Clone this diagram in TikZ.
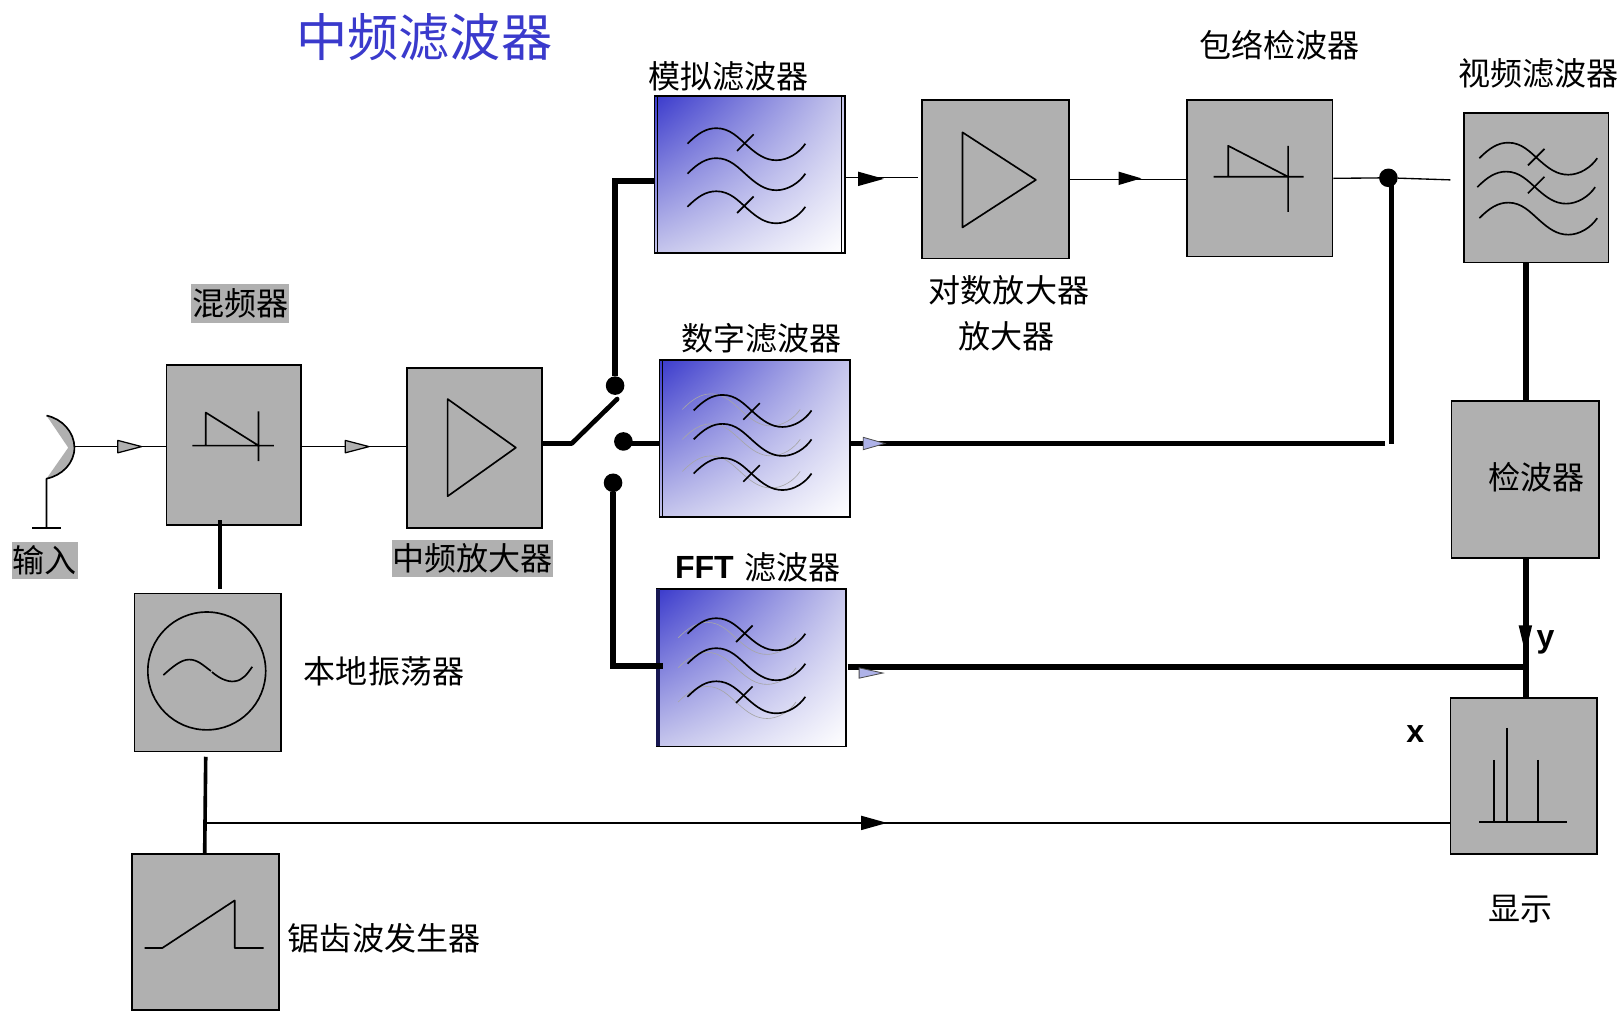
\documentclass[tikz,border=0pt]{standalone}
\usepackage{fontspec}
\usetikzlibrary{shadings,calc}
\newfontfamily\cjk{Noto Sans CJK SC}
\newfontfamily\hel{Liberation Sans}
\definecolor{blk}{HTML}{B0B0B0}
\definecolor{fblue}{HTML}{3A3ACC}
\definecolor{fmid}{HTML}{C6C6EC}
\definecolor{tiplight}{HTML}{AEB2E8}
\tikzset{
 blockbox/.style={draw=black,fill=blk,line width=1.7pt,rectangle,inner sep=0pt},
 filtbox/.style={draw=black,line width=1.7pt,rectangle,inner sep=0pt,
   lower left=fmid,upper left=fblue,upper right=fmid,lower right=white},
 lbl/.style={inner sep=0pt,font=\cjk\fontsize{31}{32}\selectfont},
 glbl/.style={lbl,fill=blk},
 latin/.style={inner sep=0pt,font=\hel\bfseries\fontsize{31}{32}\selectfont},
 sym/.style={line width=1.6pt,line join=round},
 wavel/.style={line width=1.6pt},
 ghost/.style={line width=.6pt,black!35},
 thin wire/.style={line width=1.3pt},
 thick wire/.style={line width=5.5pt},
 dotn/.style={circle,fill=black,inner sep=0pt,minimum size=18pt},
 gtip/.style={draw=black,fill=blk,line width=1.2pt,line join=round},
 btip/.style={fill=black},
 ltip/.style={draw=black!70,fill=tiplight,line width=.8pt},
}
\newcommand\wavy[3][wavel]{\draw[#1,shift={(#2,#3)}] (0,0) .. controls (10,-10) and (18,-15) .. (28,-15) .. controls (41,-15) and (49,-6) .. (58,2) .. controls (67,10) and (75,16) .. (86,16) .. controls (97,16) and (108,9) .. (114,0);}
\newcommand\crossm[2]{\draw[wavel,shift={(#1,#2)}] (-8,8) -- (8,-8);}
\begin{document}
\begin{tikzpicture}[x=1pt,y=-1pt]
\fill[white] (0,0) rectangle (1568,978);
\useasboundingbox (0,0) rectangle (1568,978);

\coordinate (swa) at (553,429);
\coordinate (swb) at (597,386);
\coordinate (k1) at (595,175);
\coordinate (k2) at (595,644);
\coordinate (k3) at (1340,429);
\coordinate (k4) at (1346,429);
\coordinate (k5) at (1403,174);
\coordinate (k6) at (1476,645);
\coordinate (k7) at (199,796);
\coordinate (k8) at (888,172);

% blocks
\node[blockbox,minimum width=130pt,minimum height=155pt] (mix) at (226,430.5) {};
\node[blockbox,minimum width=130pt,minimum height=155pt] (ifa) at (459,433.5) {};
\node[blockbox,minimum width=142pt,minimum height=153pt] (log) at (963,173.5) {};
\node[blockbox,minimum width=141pt,minimum height=151pt] (env) at (1218.5,172.5) {};
\node[blockbox,minimum width=140pt,minimum height=145pt] (vid) at (1486,181.5) {};
\node[blockbox,minimum width=143pt,minimum height=152pt] (det) at (1475.5,464) {};
\node[blockbox,minimum width=142pt,minimum height=151pt] (dis) at (1474,750.5) {};
\node[blockbox,minimum width=142pt,minimum height=153pt] (lo) at (201,650.5) {};
\node[blockbox,minimum width=142pt,minimum height=151pt] (saw) at (199,901.5) {};
\node[filtbox,minimum width=184pt,minimum height=152pt] (ana) at (725,169) {};
\node[filtbox,minimum width=184pt,minimum height=152pt] (dig) at (730,424) {};
\node[filtbox,minimum width=183pt,minimum height=152pt] (fft) at (726.5,646) {};

% filter edge bars
\draw[line width=1pt] (636,93) -- (636,245) (814,93) -- (814,245);
\draw[line width=1pt] (641,348) -- (641,500);
\fill[black!60!fblue] (635,570) rectangle (638,722);

% switch
\node[dotn] (d1) at (595,373) {};
\node[dotn] (d2) at (603,427) {};
\node[dotn] (d3) at (593,467) {};

% connectors
\draw[line width=4pt] (ifa.east |- swa) -- (swa);
\draw[line width=4.5pt,line cap=round] (swa) -- (swb);
\draw[thick wire,line join=miter] (d1 |- k1) ++(0,0) -- (d1);
\draw[thick wire,line join=miter] (d1 |- k1) ++(-2.75,0) -- (ana.west |- k1);
\draw[line width=5pt] (d2 |- k3) -- (dig.west |- k3);
\draw[thick wire,line join=miter] (d3) -- (k2 -| d3) ++(-2.75,0) -- (641,644);
\draw[thick wire] (dig.east |- k3) -- (k3);
\node[dotn] (d4) at (1343,172) {};
\draw[thick wire] (k4) -- (k4 |- d4);
\draw[thin wire] (ana.east |- k8) -- (k8);
\draw[thin wire] (log.east) -- (env.west |- log.east);
\draw[thin wire] (env.east) -- (d4) -- (k5);
\draw[line width=6.5pt] (vid.south -| k6) -- (det.north -| k6);
\draw[line width=6.5pt] (det.south -| k6) -- (dis.north -| k6);
\draw[thick wire] (820,645) -- (k6);
\draw[line width=4pt] (213,503) -- (213,570);
\draw[line width=3.5pt] (199,732) -- (198,826);
\draw[thin wire] (k7) -- (dis.west |- k7);
\draw[thin wire] (72,432) -- (mix.west |- 0,432);
\draw[thin wire] (mix.east |- 0,432) -- (ifa.west |- 0,432);

% arrow tips
\draw[gtip] (114,426) -- (137,432) -- (114,438) -- cycle;
\draw[gtip] (334,426) -- (357,432) -- (334,438) -- cycle;
\fill[btip] (830,166) -- (855,173) -- (830,180) -- cycle;
\fill[btip] (1082,166) -- (1104,172.5) -- (1082,179) -- cycle;
\fill[btip] (833,789) -- (858,796) -- (833,803) -- cycle;
\fill[btip] (1469,605) -- (1475.5,632) -- (1482,605) -- cycle;
\draw[ltip] (835,423) -- (856,429) -- (835,435) -- cycle;
\draw[ltip] (831,646) -- (854,651) -- (831,656) -- cycle;

% antenna
\fill[blk] (45,402) .. controls (60,405) and (72,418) .. (72,433) .. controls (72,448) and (60,460) .. (45,463) -- (66,433) -- cycle;
\draw[sym] (45,402) .. controls (60,405) and (72,418) .. (72,433) .. controls (72,448) and (60,460) .. (45,463) -- (45,511);
\draw[sym] (31,511) -- (59,511);

% mixer diode
\draw[sym] (186,431) -- (265,431) (199,431) -- (199,399) -- (250,431) (250,398) -- (250,446);
% envelope diode
\draw[sym] (1174,171) -- (1261,171) (1188,171) -- (1188,141) -- (1246,171) (1246,141) -- (1246,205);
% amplifiers
\draw[sym] (433,386) -- (499,433) -- (433,480) -- cycle;
\draw[sym] (931,128) -- (1002,174) -- (931,220) -- cycle;

% analog filter
\wavy{665}{139}\wavy{665}{168}\wavy{665}{200}
\crossm{721}{138}\crossm{721}{198}
% digital filter
\wavy[ghost]{660}{396}\wavy[ghost]{660}{425}\wavy[ghost]{660}{456}
\wavy{671}{397}\wavy{671}{425}\wavy{671}{458}
\crossm{727}{398}\crossm{727}{458}
% fft filter
\wavy[ghost]{656}{617}\wavy[ghost]{656}{646}\wavy[ghost]{656}{679}
\wavy{665}{613}\wavy{665}{642}\wavy{665}{674}
\crossm{720}{613}\crossm{720}{672}
% video filter
\wavy{1431}{153}\wavy{1429}{181}\wavy{1431}{211}
\crossm{1486}{152}\crossm{1486}{179}

% oscillator
\node[draw=black,line width=1.6pt,circle,inner sep=0pt,minimum size=114pt] (osc) at (200,649) {};
\draw[wavel] (158,653) .. controls (167,645) and (175,638) .. (183,638) .. controls (192,638) and (198,645) .. (204,649);
\draw[wavel] (205,650) .. controls (212,656) and (220,660) .. (227,659) .. controls (235,658) and (239,652) .. (244,645);
% sawtooth
\draw[sym] (140,917) -- (157,917) -- (227,871) -- (227,917) -- (255,917);
% display
\draw[sym] (1431,795) -- (1516,795) (1445,735) -- (1445,795) (1458,704) -- (1458,795) (1488,735) -- (1488,795);

% labels
\node[inner sep=0pt,text=fblue,font=\cjk\fontsize{49.5}{50}\selectfont] (tt) at (410.5,36) {中频滤波器};
\node[lbl] (l1) at (704.5,74) {模拟滤波器};
\node[lbl] (l2) at (1238,44) {包络检波器};
\node[lbl] (l3) at (1488,71) {视频滤波器};
\node[glbl,minimum width=95pt,minimum height=37pt] (l4) at (232.5,293.5) {混频器};
\node[glbl,minimum width=63pt,minimum height=36pt] (l5) at (43.5,542) {输入};
\node[glbl,minimum width=156pt,minimum height=36pt] (l6) at (457,540) {中频放大器};
\node[lbl] (l7) at (737,327) {数字滤波器};
\node[latin,anchor=east] (l8a) at (710,549) {FFT};
\node[lbl,anchor=west] (l8b) at (720,549) {滤波器};
\node[lbl] (l9) at (976,280.5) {对数放大器};
\node[lbl] (l10) at (973.5,325) {放大器};
\node[lbl] (l11) at (371.5,649) {本地振荡器};
\node[lbl] (l12) at (371.5,908) {锯齿波发生器};
\node[lbl] (l13) at (1486,462) {检波器};
\node[lbl] (l14) at (1470.5,879) {显示};
\node[latin] (lx) at (1369,710) {x};
\node[latin] (ly) at (1495,621) {y};
\end{tikzpicture}
\end{document}
